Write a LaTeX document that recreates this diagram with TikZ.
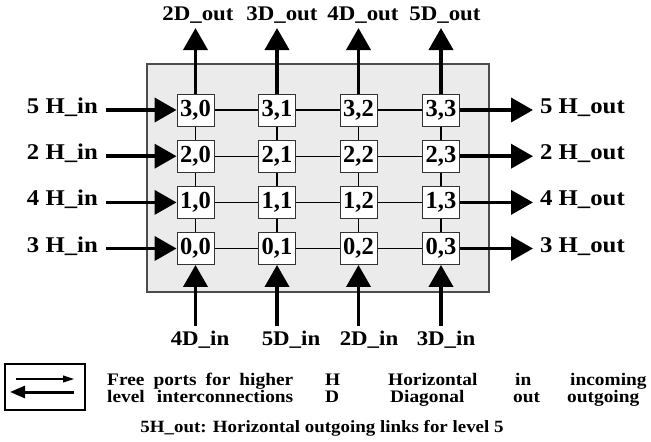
\documentclass[tikz,border=0pt]{standalone}
\usepackage{fontspec}
\setmainfont{Liberation Serif}[FakeStretch=1.1]
\newfontfamily\boxfont{Liberation Serif}
\usetikzlibrary{arrows.meta}
\begin{document}
\begin{tikzpicture}[x=1pt,y=-1pt,
  cell/.style={draw=black!80, line width=0.9pt, fill=white, minimum width=37pt, minimum height=32pt, inner sep=0pt, font=\boxfont\fontsize{24.5}{24.5}\selectfont\bfseries},
  lab/.style={font=\fontsize{22.5}{22.5}\selectfont\bfseries, inner sep=0pt},
  dlab/.style={font=\fontsize{20.8}{20.8}\selectfont\bfseries, inner sep=0pt, anchor=base},
  big/.style={line width=3.8pt, -{Triangle[length=22pt,width=24pt]}},
  link/.style={line width=1.2pt},
  leg/.style={font=\fontsize{17.6}{17.6}\selectfont\bfseries, inner sep=0pt, anchor=base west},
]
\useasboundingbox (0,0) rectangle (651,442);
\draw[fill=black!8, draw=black!70, line width=1.2pt] (147,64) rectangle (489,292);
% cell positions
\foreach \i/\y in {3/110, 2/156.2, 1/202.4, 0/248.5} {
  \foreach \j/\x in {0/195.5,1/277,2/358.5,3/441} {
    \coordinate (c\i\j) at (\x,\y);
  }
}
\foreach \i in {0,1,2,3} {
  \draw[link] (c\i0) -- (c\i3);
  \draw[link] (c0\i) -- (c3\i);
}
\foreach \i in {0,1,2,3} {
  \foreach \j in {0,1,2,3} {
    \node[cell] (n\i\j) at (c\i\j) {\i,\j};
  }
}
% left inputs and right outputs
\foreach \i/\y/\lev in {3/110/5, 2/156.2/2, 1/202.4/4, 0/248.5/3} {
  \coordinate (li\i) at (106,\y);
  \coordinate (ro\i) at (533,\y);
  \draw[big] (li\i) -- (n\i0.west);
  \draw[big] (n\i3.east) -- (ro\i);
  \node[lab, anchor=base east] (lin\i) at (98,\y+3.5) {\lev{} H\_in};
  \node[lab, anchor=base west] (rout\i) at (540,\y+3.5) {\lev{} H\_out};
}
% top outputs and bottom inputs
\foreach \j/\x/\lt/\xt/\lb/\xb in {0/195.5/2/198/4/200, 1/277/3/282/5/291, 2/358.5/4/363/2/369, 3/441/5/445/3/446} {
  \coordinate (to\j) at (\x,28);
  \coordinate (bi\j) at (\x,326);
  \draw[big] (n3\j.north) -- (to\j);
  \draw[big] (bi\j) -- (n0\j.south);
  \node[dlab] (tout\j) at (\xt,20) {\lt D\_out};
  \node[dlab] (bin\j) at (\xb,345) {\lb D\_in};
}
% legend
\node[draw=black, line width=1.3pt, minimum width=80pt, minimum height=46pt, inner sep=0pt] (legbox) at (45,387) {};
\coordinate (la1) at (16,379);
\coordinate (la2) at (74,379);
\coordinate (lb1) at (74,392);
\coordinate (lb2) at (10,392);
\draw[line width=1.1pt, -{Triangle[length=11pt,width=7pt]}] (la1) -- (la2);
\draw[line width=3pt, -{Triangle[length=15pt,width=12pt]}] (lb1) -- (lb2);
\node[leg] (free1) at (107,385) {\makebox[186pt][s]{Free ports for higher}};
\node[leg] (free2) at (107,402) {\makebox[186pt][s]{level interconnections}};
\node[leg] (kH) at (325,385) {H};
\node[leg] (kD) at (325,402) {D};
\node[leg] (kHz) at (388,385) {Horizontal};
\node[leg] (kDg) at (390,402) {Diagonal};
\node[leg] (kin) at (515,385) {in};
\node[leg] (kout) at (513,402) {out};
\node[leg] (kinc) at (570,385) {incoming};
\node[leg] (koutg) at (567,402) {outgoing};
\node[font=\fontsize{17.2}{17.2}\selectfont\bfseries, inner sep=0pt, anchor=base] (note) at (322,432) {5H\_out: Horizontal outgoing links for level 5};
\end{tikzpicture}
\end{document}
